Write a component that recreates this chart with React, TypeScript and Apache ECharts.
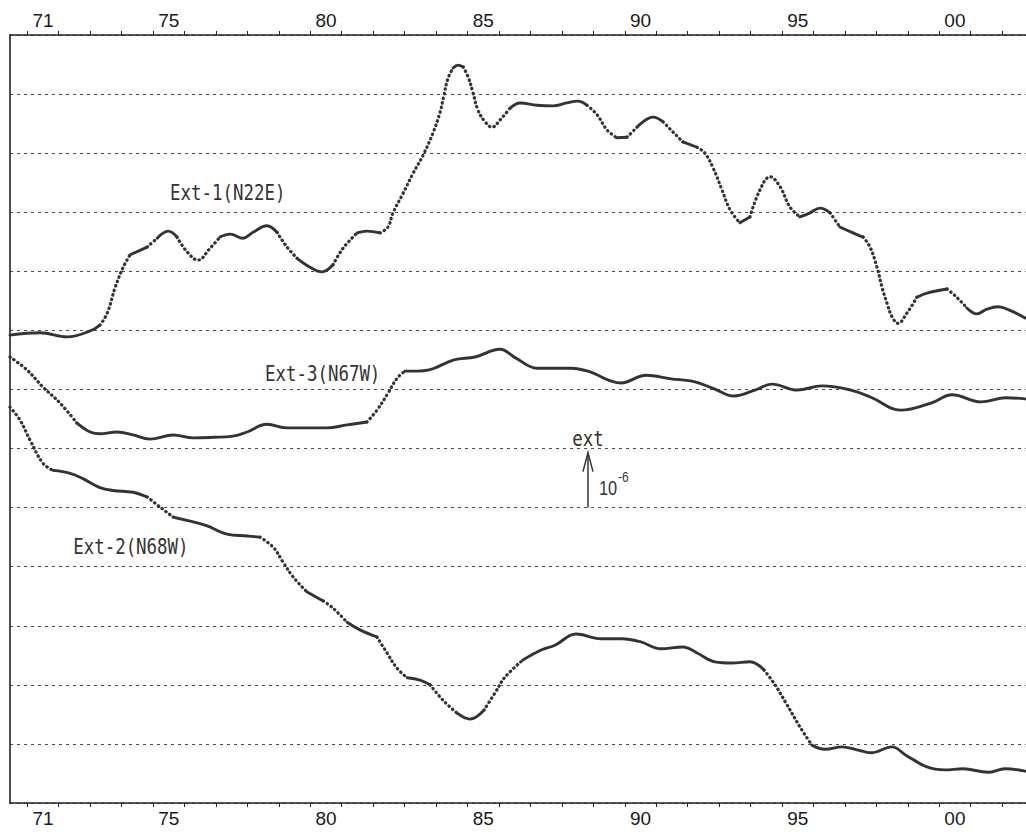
import React, { useEffect, useRef } from "react";
import * as echarts from "echarts";

// ---- data (year, strain in units of 1e-6, offset per curve) ----
const ext1: [number, number][] = [
  [1970.45, 7.92], [1971.41, 7.96], [1972.27, 7.89], [1973.0, 7.99], [1973.31, 8.09], [1973.54, 8.29],
  [1973.79, 8.72], [1974.05, 9.07], [1974.27, 9.28], [1974.81, 9.41], [1975.13, 9.56], [1975.48, 9.68],
  [1975.76, 9.58], [1976.08, 9.33], [1976.43, 9.19], [1976.81, 9.39], [1977.13, 9.58], [1977.45, 9.63],
  [1977.86, 9.56], [1978.18, 9.66], [1978.62, 9.77], [1978.94, 9.66], [1979.26, 9.41], [1979.58, 9.22],
  [1979.99, 9.07], [1980.37, 8.99], [1980.72, 9.11], [1981.04, 9.39], [1981.49, 9.65], [1981.8, 9.68],
  [1982.22, 9.65], [1982.47, 9.75], [1982.63, 9.99], [1982.95, 10.32], [1983.27, 10.66], [1983.59, 10.97],
  [1983.9, 11.34], [1984.13, 11.7], [1984.25, 11.98], [1984.38, 12.27], [1984.54, 12.44], [1984.7, 12.49],
  [1984.86, 12.46], [1985.02, 12.29], [1985.17, 12.03], [1985.33, 11.73], [1985.56, 11.53], [1985.78, 11.44],
  [1986.03, 11.56], [1986.35, 11.76], [1986.67, 11.85], [1987.21, 11.81], [1987.72, 11.8], [1988.16, 11.85],
  [1988.51, 11.88], [1988.8, 11.81], [1989.12, 11.65], [1989.44, 11.39], [1989.75, 11.26], [1990.07, 11.27],
  [1990.39, 11.44], [1990.9, 11.61], [1991.22, 11.53], [1991.53, 11.36], [1991.85, 11.19], [1992.3, 11.1],
  [1992.55, 11.0], [1992.81, 10.75], [1993.09, 10.38], [1993.35, 10.04], [1993.66, 9.82], [1993.98, 9.92],
  [1994.3, 10.38], [1994.62, 10.6], [1994.94, 10.43], [1995.25, 10.09], [1995.57, 9.92], [1995.89, 9.99],
  [1996.21, 10.07], [1996.53, 9.99], [1996.84, 9.75], [1997.26, 9.65], [1997.58, 9.58], [1997.8, 9.41],
  [1998.02, 9.07], [1998.18, 8.73], [1998.34, 8.46], [1998.5, 8.23], [1998.69, 8.12], [1998.97, 8.29],
  [1999.29, 8.56], [1999.61, 8.63], [2000.25, 8.7], [2000.56, 8.56], [2000.88, 8.38], [2001.2, 8.28],
  [2001.52, 8.36], [2001.87, 8.4], [2002.25, 8.34], [2002.73, 8.21],
];

const ext3: [number, number][] = [
  [1970.45, 7.55], [1970.99, 7.33], [1971.5, 7.04], [1972.04, 6.77], [1972.58, 6.43], [1973.0, 6.28],
  [1973.31, 6.25], [1973.86, 6.28], [1974.36, 6.23], [1974.9, 6.16], [1975.64, 6.23], [1976.27, 6.18],
  [1976.91, 6.19], [1977.54, 6.21], [1977.99, 6.28], [1978.62, 6.41], [1979.26, 6.35], [1979.9, 6.35],
  [1980.53, 6.35], [1981.17, 6.4], [1981.8, 6.45], [1982.12, 6.65], [1982.44, 6.91], [1982.76, 7.19],
  [1983.01, 7.31], [1983.39, 7.31], [1983.78, 7.33], [1984.57, 7.5], [1985.24, 7.55], [1986.03, 7.68],
  [1986.54, 7.53], [1987.21, 7.36], [1988.29, 7.36], [1988.83, 7.31], [1989.88, 7.11], [1990.68, 7.24],
  [1991.47, 7.18], [1992.14, 7.14], [1992.81, 7.02], [1993.47, 6.89], [1994.14, 6.99], [1994.68, 7.09],
  [1995.48, 6.99], [1996.27, 7.06], [1997.19, 6.99], [1997.86, 6.86], [1998.78, 6.65], [1999.74, 6.77],
  [2000.41, 6.91], [2001.33, 6.79], [2002.12, 6.86], [2002.73, 6.84],
];

const ext2: [number, number][] = [
  [1970.45, 6.7], [1970.77, 6.48], [1971.09, 6.14], [1971.5, 5.75], [1971.82, 5.63], [1972.36, 5.58],
  [1972.77, 5.49], [1973.31, 5.34], [1973.73, 5.29], [1974.36, 5.26], [1974.81, 5.18], [1975.22, 5.01],
  [1975.64, 4.84], [1976.18, 4.77], [1976.72, 4.69], [1977.35, 4.55], [1977.99, 4.52], [1978.4, 4.5],
  [1978.82, 4.33], [1979.13, 4.08], [1979.45, 3.83], [1979.9, 3.57], [1980.41, 3.42], [1980.72, 3.3],
  [1981.17, 3.06], [1981.58, 2.93], [1982.12, 2.81], [1982.44, 2.54], [1982.76, 2.28], [1983.08, 2.12],
  [1983.49, 2.08], [1983.81, 2.0], [1984.22, 1.74], [1984.67, 1.52], [1985.08, 1.42], [1985.52, 1.57],
  [1985.87, 1.86], [1986.19, 2.13], [1986.76, 2.42], [1987.34, 2.59], [1987.78, 2.67], [1988.45, 2.86],
  [1989.24, 2.78], [1989.91, 2.78], [1990.49, 2.73], [1991.15, 2.61], [1991.85, 2.64], [1992.3, 2.54],
  [1992.87, 2.39], [1993.41, 2.37], [1993.98, 2.39], [1994.43, 2.25], [1994.78, 2.0], [1995.13, 1.69],
  [1995.57, 1.29], [1995.95, 0.98], [1996.37, 0.91], [1996.91, 0.95], [1997.38, 0.9], [1997.83, 0.85],
  [1998.5, 0.95], [1998.94, 0.81], [1999.61, 0.61], [2000.18, 0.56], [2000.76, 0.58], [2001.55, 0.52],
  [2002.09, 0.58], [2002.73, 0.54],
];

const yearTicks = [
  1971, 1972, 1973, 1974, 1975, 1976, 1977, 1978, 1979, 1980, 1981, 1982, 1983, 1984, 1985, 1986,
  1987, 1988, 1989, 1990, 1991, 1992, 1993, 1994, 1995, 1996, 1997, 1998, 1999, 2000, 2001, 2002,
];
const labelYears = [1971, 1975, 1980, 1985, 1990, 1995, 2000];

const X_MIN = 1970.45;
const X_MAX = 2002.76;
const Y_MIN = 0;
const Y_MAX = 13;

// ---- layout / style ----
const W = 1026;
const H = 832;
const GRID = { left: 10, right: 0, top: 35, bottom: 29 };
const INK = "#333333";
const MONO = "'DejaVu Sans Mono', monospace";
const SANS = "'Liberation Sans', Arial, sans-serif";

const curveLabels = [
  { text: "Ext-1(N22E)", year: 1975.54, value: 10.33 },
  { text: "Ext-3(N67W)", year: 1978.56, value: 7.26 },
  { text: "Ext-2(N68W)", year: 1972.46, value: 4.33 },
];
const scaleArrow = { year: 1988.83, from: 5, to: 5.93 };

const pxPerYear = (W - GRID.left - GRID.right) / (X_MAX - X_MIN);
const pxPerUnit = (H - GRID.top - GRID.bottom) / (Y_MAX - Y_MIN);

function splitRuns(pts: [number, number][]) {
  const runs: { dotted: boolean; pts: [number, number][] }[] = [];
  let cur: { dotted: boolean; pts: [number, number][] } | null = null;
  for (let i = 0; i < pts.length - 1; i++) {
    const a = pts[i];
    const b = pts[i + 1];
    const s = Math.abs(((b[1] - a[1]) * pxPerUnit) / ((b[0] - a[0]) * pxPerYear));
    const dotted = s > 0.7;
    if (!cur || cur.dotted !== dotted) {
      cur = { dotted, pts: [a] };
      runs.push(cur);
    }
    cur.pts.push(b);
  }
  return runs;
}

function curveSeries(name: string, pts: [number, number][]) {
  return splitRuns(pts).map((r, i) => ({
    type: "line",
    name: name + "-" + i,
    data: r.pts,
    smooth: 0.4,
    symbol: "none",
    silent: true,
    z: 3,
    lineStyle: r.dotted
      ? { color: INK, width: 3.2, type: [0.5, 4.2], cap: "round" }
      : { color: INK, width: 2.9, type: "solid", cap: "round" },
  }));
}

function xAxisDef(position: "top" | "bottom") {
  return {
    type: "value",
    position,
    min: X_MIN,
    max: X_MAX,
    axisLine: { show: true, onZero: false, lineStyle: { color: "#222", width: 1.6 } },
    axisTick: {
      show: true,
      inside: false,
      length: 4,
      customValues: yearTicks,
      lineStyle: { color: "#222", width: 1 },
    },
    axisLabel: {
      show: true,
      customValues: labelYears.map((y) => y + 0.5),
      formatter: (v: number) => String(Math.floor(v) % 100).padStart(2, "0"),
      color: "#1a1a1a",
      fontSize: 19,
      fontFamily: SANS,
      margin: position === "top" ? 5 : 6,
    },
    splitLine: { show: false },
  };
}

export default function App() {
  const ref = useRef<HTMLDivElement>(null);
  useEffect(() => {
    if (!ref.current) return;
    const chart = echarts.init(ref.current, undefined, { renderer: "svg", width: W, height: H });
    chart.setOption({
      animation: false,
      backgroundColor: "#fff",
      grid: { ...GRID, containLabel: false, outerBoundsMode: "none" },
      xAxis: [xAxisDef("bottom"), xAxisDef("top")],
      yAxis: {
        type: "value",
        min: Y_MIN,
        max: Y_MAX,
        interval: 1,
        axisLine: { show: true, onZero: false, lineStyle: { color: "#222", width: 1.6 } },
        axisTick: { show: false },
        axisLabel: { show: false },
        splitLine: { show: true, lineStyle: { color: "#4a4a4a", width: 1.1, type: [3, 4] } },
      },
      series: [
        ...curveSeries("Ext-1", ext1),
        ...curveSeries("Ext-3", ext3),
        ...curveSeries("Ext-2", ext2),
      ],
    });

    const px = (y: number, v: number) => chart.convertToPixel({ seriesIndex: 0 }, [y, v]) as number[];
    const tip = px(scaleArrow.year, scaleArrow.to);
    const base = px(scaleArrow.year, scaleArrow.from);
    const graphics: any[] = curveLabels.map((l) => {
      const p = px(l.year, l.value);
      return {
        type: "text",
        x: p[0],
        y: p[1],
        scaleX: 0.83,
        style: { text: l.text, fontSize: 21, fontFamily: MONO, fill: INK, align: "left", verticalAlign: "middle" },
      };
    });
    graphics.push(
      {
        type: "text",
        x: tip[0],
        y: tip[1] - 14,
        scaleX: 0.83,
        style: { text: "ext", fontSize: 21, fontFamily: MONO, fill: INK, align: "center", verticalAlign: "middle" },
      },
      {
        type: "line",
        shape: { x1: base[0], y1: base[1], x2: tip[0], y2: tip[1] },
        style: { stroke: INK, lineWidth: 1.5 },
      },
      {
        type: "polyline",
        shape: { points: [[tip[0] - 5, tip[1] + 19], [tip[0], tip[1]], [tip[0] + 5, tip[1] + 19]] },
        style: { stroke: INK, lineWidth: 1.5, fill: null },
      },
      {
        type: "text",
        x: tip[0] + 11,
        y: (tip[1] + base[1]) / 2 + 8,
        scaleX: 0.78,
        style: { text: "10", fontSize: 21, fontFamily: SANS, fill: INK, align: "left", verticalAlign: "middle" },
      },
      {
        type: "text",
        x: tip[0] + 30,
        y: (tip[1] + base[1]) / 2 - 3,
        scaleX: 0.85,
        style: { text: "-6", fontSize: 14, fontFamily: SANS, fill: INK, align: "left", verticalAlign: "middle" },
      }
    );
    chart.setOption({ graphic: graphics });
    return () => chart.dispose();
  }, []);
  return (
    <div
      ref={ref}
      style={{ position: "fixed", left: 0, top: 0, width: W, height: H, background: "#fff" }}
    />
  );
}
